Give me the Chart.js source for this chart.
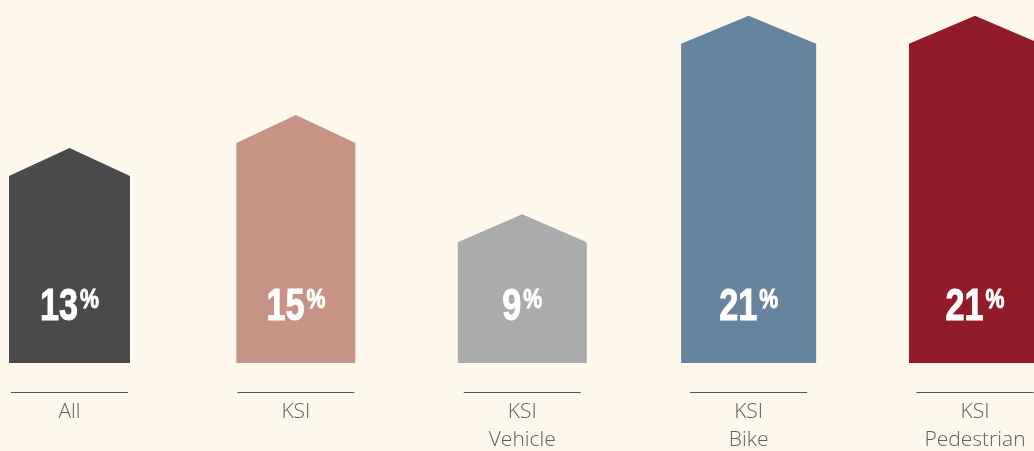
<!DOCTYPE html>
<html><head><meta charset="utf-8">
<script src="https://cdn.jsdelivr.net/npm/chart.js@4/dist/chart.umd.min.js"></script>
<style>
html,body{margin:0;padding:0;background:#fdf8eb;overflow:hidden;}
canvas{display:block;}
</style></head><body>
<canvas id="c" width="1034" height="451"></canvas>
<script>
// ---- data ----
const categories = [['All'], ['KSI'], ['KSI', 'Vehicle'], ['KSI', 'Bike'], ['KSI', 'Pedestrian']];
const values = [13, 15, 9, 21, 21];
const valueLabels = ['13', '15', '9', '21', '21'];
const unitLabel = '%';

// ---- style ----
const colors = ['#4a4a4c', '#c79385', '#aaabac', '#66849e', '#921b2a'];
const barWidths = [121, 119, 129, 135, 132];
const roofHeight = 28;
const BG = '#fdf8eb';
const squeeze = 0.76;

const bgPlugin = {
  id: 'bg',
  beforeDraw(chart) {
    const ctx = chart.ctx;
    ctx.save();
    ctx.fillStyle = BG;
    ctx.fillRect(0, 0, chart.width, chart.height);
    ctx.restore();
  }
};

function squeezedText(ctx, text, x, y, font) {
  ctx.save();
  ctx.translate(x, y);
  ctx.scale(squeeze, 1);
  ctx.font = font;
  ctx.fillText(text, 0, 0);
  ctx.strokeStyle = '#ffffff';
  ctx.lineWidth = 1;
  ctx.strokeText(text, 0, 0);
  ctx.restore();
}

const housePlugin = {
  id: 'house',
  beforeDatasetDraw() { return false; },
  afterDatasetsDraw(chart) {
    const ctx = chart.ctx;
    const xs = chart.scales.x, ys = chart.scales.y;
    const y0 = ys.getPixelForValue(0);
    chart.data.datasets.forEach((ds, i) => {
      const meta = chart.getDatasetMeta(i);
      const bar = meta.data[0];
      if (!bar) return;
      const l = bar.x - bar.width / 2, r = bar.x + bar.width / 2;
      ctx.save();
      ctx.fillStyle = ds.backgroundColor;
      ctx.beginPath();
      ctx.moveTo(l, bar.base);
      ctx.lineTo(l, bar.y + roofHeight);
      ctx.lineTo(bar.x, bar.y);
      ctx.lineTo(r, bar.y + roofHeight);
      ctx.lineTo(r, bar.base);
      ctx.closePath();
      ctx.fill();

      // value label (condensed)
      const numFont = "bold 45px 'Liberation Sans', Arial, sans-serif";
      const pctFont = "bold 28px 'Liberation Sans', Arial, sans-serif";
      ctx.fillStyle = '#ffffff';
      ctx.textBaseline = 'alphabetic';
      ctx.textAlign = 'left';
      ctx.font = numFont;
      const wn = ctx.measureText(valueLabels[i]).width * squeeze;
      ctx.font = pctFont;
      const wp = ctx.measureText(unitLabel).width * squeeze;
      const gap = 2;
      const start = bar.x - (wn + gap + wp) / 2;
      const base = y0 - 43;
      squeezedText(ctx, valueLabels[i], start, base, numFont);
      squeezedText(ctx, unitLabel, start + wn + gap, base - 12, pctFont);

      // category label with rule
      const cx = xs.getPixelForValue(i);
      ctx.strokeStyle = '#555555';
      ctx.lineWidth = 1;
      ctx.beginPath();
      ctx.moveTo(cx - 58.5, y0 + 29.5);
      ctx.lineTo(cx + 58.5, y0 + 29.5);
      ctx.stroke();
      ctx.fillStyle = '#606060';
      ctx.textAlign = 'center';
      ctx.font = "300 21px 'Open Sans', 'Lato', sans-serif";
      categories[i].forEach((line, k) => {
        ctx.fillText(line, cx, y0 + 55 + k * 28);
      });
      ctx.restore();
    });
  }
};

const datasets = values.map((v, i) => ({
  label: categories[i].join(' '),
  data: [{ x: i, y: v }],
  backgroundColor: colors[i],
  maxBarThickness: barWidths[i],
  grouped: false,
  categoryPercentage: 1,
  barPercentage: 1
}));

new Chart(document.getElementById('c'), {
  type: 'bar',
  data: { datasets },
  plugins: [bgPlugin, housePlugin],
  options: {
    responsive: false,
    animation: false,
    layout: { padding: 0 },
    plugins: { legend: { display: false }, tooltip: { enabled: false } },
    scales: {
      x: {
        type: 'linear', display: false, offset: false,
        grid: { offset: false },
        min: -0.307, max: 4.2606,
        afterBuildTicks(scale) { scale.ticks = values.map((_, i) => ({ value: i })); }
      },
      y: {
        type: 'linear', display: false,
        min: -88 / 16.53, max: 363 / 16.53
      }
    }
  }
});
</script>
</body></html>
